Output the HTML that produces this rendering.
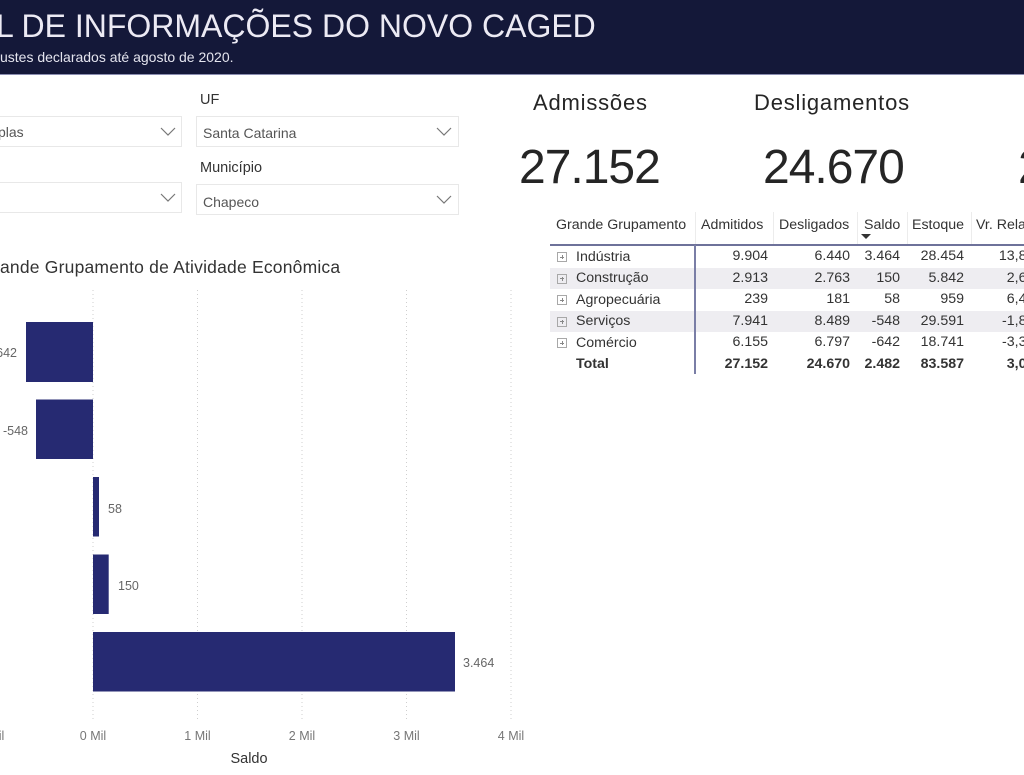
<!DOCTYPE html>
<html><head><meta charset="utf-8">
<style>
*{margin:0;padding:0;box-sizing:border-box}
html,body{width:1024px;height:775px;overflow:hidden;background:#fff}
body{font-family:"Liberation Sans",sans-serif;color:#333}
#clip{position:absolute;left:0;top:0;width:1024px;height:775px;overflow:hidden;background:#fff}
.abs{position:absolute;white-space:nowrap}
.hdr{position:absolute;left:0;top:0;width:1024px;height:75px;background:#141839;border-bottom:1.5px solid #8a8db0}
.dd{position:absolute;height:31px;border:1px solid #e8e8e8;background:#fff}
.ddt{position:absolute;font-size:14px;color:#555;line-height:31px;top:0}
.lbl{font-size:14.5px;color:#333}
.kl{font-size:22px;letter-spacing:0.8px;color:#252525}
.kn{font-size:48px;letter-spacing:-1px;color:#252525}
.tb{font-size:14.2px;color:#333;line-height:21px}
.r{text-align:right}
.tb.r{line-height:21.5px}
.pl{position:absolute;width:10px;height:10px;border:1px solid #a8a8a8;left:557px}
.pl:before{content:"";position:absolute;left:2px;top:3.5px;width:4px;height:1px;background:#888}
.pl:after{content:"";position:absolute;left:3.5px;top:2px;width:1px;height:4px;background:#888}
</style></head><body>
<div id="clip">

<div class="hdr"></div>
<div class="abs" style="left:-4px;top:4px;font-size:32px;color:#eceaf4;line-height:44px;">L DE INFORMAÇÕES DO NOVO CAGED</div>
<div class="abs" style="left:0;top:48px;font-size:14px;color:#e4e4ee;line-height:18px;">ustes declarados até agosto de 2020.</div>

<!-- dropdowns -->
<div class="dd" style="left:-10px;top:116px;width:192px;"></div>
<div class="ddt" style="left:-2px;top:117px;">plas</div>
<svg class="abs" style="left:160px;top:127px" width="16" height="10"><polyline points="1,1 8,8 15,1" fill="none" stroke="#777" stroke-width="1.2"/></svg>

<div class="dd" style="left:-10px;top:182px;width:192px;"></div>
<svg class="abs" style="left:160px;top:193px" width="16" height="10"><polyline points="1,1 8,8 15,1" fill="none" stroke="#777" stroke-width="1.2"/></svg>

<div class="abs lbl" style="left:200px;top:92px;">UF</div>
<div class="dd" style="left:196px;top:116px;width:263px;"></div>
<div class="ddt" style="left:203px;top:118px;">Santa Catarina</div>
<svg class="abs" style="left:436px;top:127px" width="16" height="10"><polyline points="1,1 8,8 15,1" fill="none" stroke="#777" stroke-width="1.2"/></svg>

<div class="abs lbl" style="left:200px;top:160px;">Município</div>
<div class="dd" style="left:196px;top:184px;width:263px;"></div>
<div class="ddt" style="left:203px;top:187px;">Chapeco</div>
<svg class="abs" style="left:436px;top:195px" width="16" height="10"><polyline points="1,1 8,8 15,1" fill="none" stroke="#777" stroke-width="1.2"/></svg>

<!-- KPIs -->
<div class="abs kl" style="left:533px;top:90px;">Admissões</div>
<div class="abs kl" style="left:754px;top:90px;">Desligamentos</div>
<div class="abs kn" style="left:519px;top:140px;">27.152</div>
<div class="abs kn" style="left:763px;top:140px;">24.670</div>
<div class="abs kn" style="left:1018px;top:140px;">2.482</div>

<!-- table -->
<div class="abs" style="left:695px;top:212px;width:1px;height:32px;background:#ececec"></div>
<div class="abs" style="left:773px;top:212px;width:1px;height:32px;background:#ececec"></div>
<div class="abs" style="left:857px;top:212px;width:1px;height:32px;background:#ececec"></div>
<div class="abs" style="left:907px;top:212px;width:1px;height:32px;background:#ececec"></div>
<div class="abs" style="left:971px;top:212px;width:1px;height:32px;background:#ececec"></div>

<div class="abs tb" style="left:556px;top:215px;">Grande Grupamento</div>
<div class="abs tb" style="left:701px;top:215px;">Admitidos</div>
<div class="abs tb" style="left:779px;top:215px;">Desligados</div>
<div class="abs tb" style="left:864px;top:215px;">Saldo</div>
<div class="abs tb" style="left:912px;top:215px;">Estoque</div>
<div class="abs tb" style="left:976px;top:215px;">Vr. Relativa</div>
<svg class="abs" style="left:861px;top:234px" width="12" height="6"><polygon points="0,0 10,0 5,5" fill="#333"/></svg>

<div class="abs" style="left:550px;top:244px;width:474px;height:1.5px;background:#6e729a"></div>
<div class="abs" style="left:550px;top:267.5px;width:474px;height:21.5px;background:#eeedf1"></div>
<div class="abs" style="left:550px;top:310.5px;width:474px;height:21.5px;background:#eeedf1"></div>
<div class="abs" style="left:694px;top:245px;width:1.5px;height:129px;background:#7a7ea6"></div>

<div class="pl" style="top:252px"></div>
<div class="pl" style="top:273.5px"></div>
<div class="pl" style="top:295px"></div>
<div class="pl" style="top:316.5px"></div>
<div class="pl" style="top:338px"></div>

<div class="abs tb" style="left:576px;top:246.5px;">Indústria</div>
<div class="abs tb" style="left:576px;top:268px;">Construção</div>
<div class="abs tb" style="left:576px;top:289.5px;">Agropecuária</div>
<div class="abs tb" style="left:576px;top:311px;">Serviços</div>
<div class="abs tb" style="left:576px;top:332.5px;">Comércio</div>
<div class="abs tb" style="left:576px;top:354px;font-weight:bold;">Total</div>

<!-- numeric columns -->
<div class="abs tb r" style="left:700px;width:68px;top:246px;">9.904<br>2.913<br>239<br>7.941<br>6.155<br></div>
<div class="abs tb r" style="left:780px;width:70px;top:246px;">6.440<br>2.763<br>181<br>8.489<br>6.797<br></div>
<div class="abs tb r" style="left:850px;width:50px;top:246px;">3.464<br>150<br>58<br>-548<br>-642<br></div>
<div class="abs tb r" style="left:900px;width:64px;top:246px;">28.454<br>5.842<br>959<br>29.591<br>18.741<br></div>
<div class="abs tb r" style="left:970px;width:77px;top:246px;">13,86%<br>2,64%<br>6,44%<br>-1,82%<br>-3,31%<br></div>
<div class="abs tb r" style="left:700px;width:68px;top:353.5px;font-weight:bold;">27.152</div>
<div class="abs tb r" style="left:780px;width:70px;top:353.5px;font-weight:bold;">24.670</div>
<div class="abs tb r" style="left:850px;width:50px;top:353.5px;font-weight:bold;">2.482</div>
<div class="abs tb r" style="left:900px;width:64px;top:353.5px;font-weight:bold;">83.587</div>
<div class="abs tb r" style="left:970px;width:77px;top:353.5px;font-weight:bold;">3,06%</div>

<!-- chart title -->
<div class="abs" style="left:0;top:256px;font-size:17.5px;letter-spacing:0.2px;color:#333;line-height:22px;">ande Grupamento de Atividade Econômica</div>

<svg class="abs" style="left:0;top:0" width="1024" height="775">
  <g stroke="#cfcfcf" stroke-width="1" stroke-dasharray="1 3">
    <line x1="93" y1="290" x2="93" y2="720"/>
    <line x1="197.5" y1="290" x2="197.5" y2="720"/>
    <line x1="302" y1="290" x2="302" y2="720"/>
    <line x1="406.5" y1="290" x2="406.5" y2="720"/>
    <line x1="511" y1="290" x2="511" y2="720"/>
  </g>
  <g fill="#262a72">
    <rect x="26" y="322" width="67" height="60"/>
    <rect x="36" y="399.5" width="57" height="59.5"/>
    <rect x="93" y="477" width="6" height="59.5"/>
    <rect x="93" y="554.5" width="15.7" height="59.5"/>
    <rect x="93" y="632" width="362" height="59.5"/>
  </g>
  <g font-family="Liberation Sans, sans-serif" font-size="12.5" fill="#666">
    <text x="17" y="357" text-anchor="end">-642</text>
    <text x="28" y="435" text-anchor="end">-548</text>
    <text x="108" y="513">58</text>
    <text x="118" y="590">150</text>
    <text x="463" y="667">3.464</text>
  </g>
  <g font-family="Liberation Sans, sans-serif" font-size="12.5" fill="#777" text-anchor="middle">
    <text x="-11" y="740">-1 Mil</text>
    <text x="93" y="740">0 Mil</text>
    <text x="197.5" y="740">1 Mil</text>
    <text x="302" y="740">2 Mil</text>
    <text x="406.5" y="740">3 Mil</text>
    <text x="511" y="740">4 Mil</text>
  </g>
  <text x="249" y="763" text-anchor="middle" font-family="Liberation Sans, sans-serif" font-size="14.5" fill="#333">Saldo</text>
</svg>

</div>
</body></html>
